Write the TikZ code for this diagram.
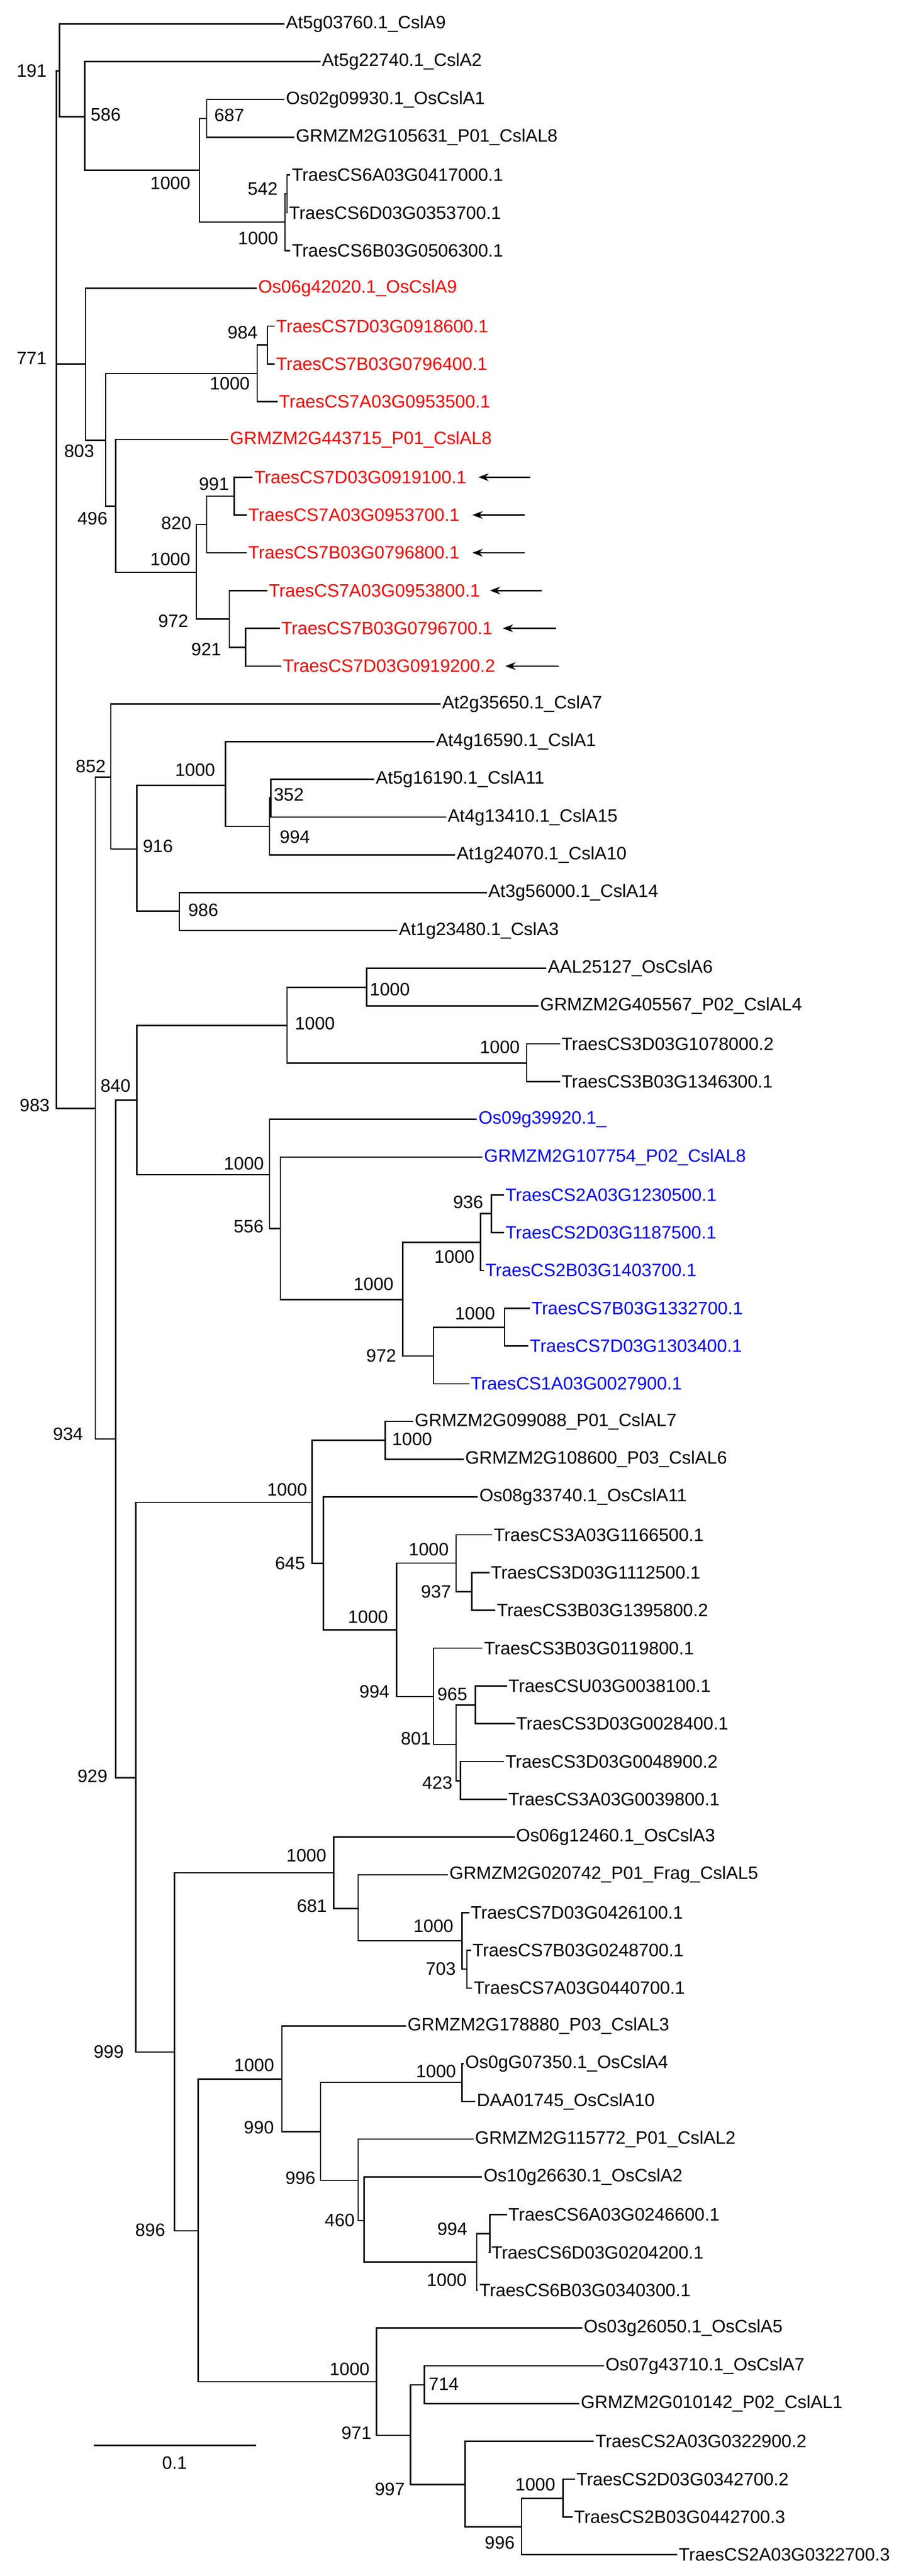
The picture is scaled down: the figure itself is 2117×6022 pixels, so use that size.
\documentclass[tikz,border=0pt]{standalone}
\usepackage{fontspec}
\setmainfont{Liberation Sans}
\usetikzlibrary{arrows.meta}
\newcommand\leaf[4][black]{\node[leaf,text=#1] (l#2) at ({#3-5},{56+88.3*(#2-1)}) {#4};}
\newcommand\bs[3]{\node[bsl] at (#1,#2) {#3};}
\definecolor{tred}{RGB}{255,0,0}
\definecolor{tblue}{RGB}{0,0,255}
\begin{document}
\begin{tikzpicture}[x=0.5pt,y=-0.5pt,
  leaf/.style={anchor=west,inner xsep=2.5pt,inner ysep=0pt,font=\fontsize{21}{25}\selectfont},
  bsl/.style={inner sep=0pt,font=\fontsize{21}{25}\selectfont},
  br/.style={line width=1.6pt,line cap=rect},
  arr/.style={line width=1.6pt,-{Stealth[length=12pt,width=9pt]}}]
\useasboundingbox[fill=white] (0,0) rectangle (2117,6022);
% leaves
\leaf{1}{668}{At5g03760.1\_CslA9}
\leaf{2}{752}{At5g22740.1\_CslA2}
\leaf{3}{668}{Os02g09930.1\_OsCslA1}
\leaf{4}{691}{GRMZM2G105631\_P01\_CslAL8}
\leaf{5}{682}{TraesCS6A03G0417000.1}
\leaf{6}{675}{TraesCS6D03G0353700.1}
\leaf{7}{682}{TraesCS6B03G0506300.1}
\leaf[tred]{8}{603}{Os06g42020.1\_OsCslA9}
\leaf[tred]{9}{645}{TraesCS7D03G0918600.1}
\leaf[tred]{10}{645}{TraesCS7B03G0796400.1}
\leaf[tred]{11}{652}{TraesCS7A03G0953500.1}
\leaf[tred]{12}{537}{GRMZM2G443715\_P01\_CslAL8}
\leaf[tred]{13}{594}{TraesCS7D03G0919100.1}
\leaf[tred]{14}{580}{TraesCS7A03G0953700.1}
\leaf[tred]{15}{580}{TraesCS7B03G0796800.1}
\leaf[tred]{16}{628}{TraesCS7A03G0953800.1}
\leaf[tred]{17}{657}{TraesCS7B03G0796700.1}
\leaf[tred]{18}{661}{TraesCS7D03G0919200.2}
\leaf{19}{1033}{At2g35650.1\_CslA7}
\leaf{20}{1019}{At4g16590.1\_CslA1}
\leaf{21}{878}{At5g16190.1\_CslA11}
\leaf{22}{1046}{At4g13410.1\_CslA15}
\leaf{23}{1067}{At1g24070.1\_CslA10}
\leaf{24}{1141}{At3g56000.1\_CslA14}
\leaf{25}{932}{At1g23480.1\_CslA3}
\leaf{26}{1280}{AAL25127\_OsCslA6}
\leaf{27}{1262}{GRMZM2G405567\_P02\_CslAL4}
\leaf{28}{1312}{TraesCS3D03G1078000.2}
\leaf{29}{1312}{TraesCS3B03G1346300.1}
\leaf[tblue]{30}{1118}{Os09g39920.1\_}
\leaf[tblue]{31}{1131}{GRMZM2G107754\_P02\_CslAL8}
\leaf[tblue]{32}{1181}{TraesCS2A03G1230500.1}
\leaf[tblue]{33}{1181}{TraesCS2D03G1187500.1}
\leaf[tblue]{34}{1134}{TraesCS2B03G1403700.1}
\leaf[tblue]{35}{1242}{TraesCS7B03G1332700.1}
\leaf[tblue]{36}{1238}{TraesCS7D03G1303400.1}
\leaf[tblue]{37}{1100}{TraesCS1A03G0027900.1}
\leaf{38}{969}{GRMZM2G099088\_P01\_CslAL7}
\leaf{39}{1087}{GRMZM2G108600\_P03\_CslAL6}
\leaf{40}{1120}{Os08g33740.1\_OsCslA11}
\leaf{41}{1154}{TraesCS3A03G1166500.1}
\leaf{42}{1147}{TraesCS3D03G1112500.1}
\leaf{43}{1161}{TraesCS3B03G1395800.2}
\leaf{44}{1131}{TraesCS3B03G0119800.1}
\leaf{45}{1188}{TraesCSU03G0038100.1}
\leaf{46}{1206}{TraesCS3D03G0028400.1}
\leaf{47}{1181}{TraesCS3D03G0048900.2}
\leaf{48}{1188}{TraesCS3A03G0039800.1}
\leaf{49}{1206}{Os06g12460.1\_OsCslA3}
\leaf{50}{1050}{GRMZM2G020742\_P01\_Frag\_CslAL5}
\leaf{51}{1100}{TraesCS7D03G0426100.1}
\leaf{52}{1104}{TraesCS7B03G0248700.1}
\leaf{53}{1107}{TraesCS7A03G0440700.1}
\leaf{54}{952}{GRMZM2G178880\_P03\_CslAL3}
\leaf{55}{1087}{Os0gG07350.1\_OsCslA4}
\leaf{56}{1114}{DAA01745\_OsCslA10}
\leaf{57}{1110}{GRMZM2G115772\_P01\_CslAL2}
\leaf{58}{1130}{Os10g26630.1\_OsCslA2}
\leaf{59}{1188}{TraesCS6A03G0246600.1}
\leaf{60}{1148}{TraesCS6D03G0204200.1}
\leaf{61}{1120}{TraesCS6B03G0340300.1}
\leaf{62}{1364}{Os03g26050.1\_OsCslA5}
\leaf{63}{1415}{Os07g43710.1\_OsCslA7}
\leaf{64}{1357}{GRMZM2G010142\_P02\_CslAL1}
\leaf{65}{1391}{TraesCS2A03G0322900.2}
\leaf{66}{1347}{TraesCS2D03G0342700.2}
\leaf{67}{1341}{TraesCS2B03G0442700.3}
\leaf{68}{1586}{TraesCS2A03G0322700.3}
% internal nodes
\coordinate (root) at (132,1378);
\coordinate (n191) at (139,166);
\coordinate (n586) at (198,273);
\coordinate (n1000a) at (466,398);
\coordinate (n687) at (483,277);
\coordinate (n1000b) at (666,519);
\coordinate (n542) at (671,453);
\coordinate (n771) at (200,851);
\coordinate (n803) at (247,1029);
\coordinate (n1000c) at (601,873);
\coordinate (n984) at (625,806);
\coordinate (n496) at (270,1183);
\coordinate (n1000d) at (459,1338);
\coordinate (n820) at (483,1226);
\coordinate (n991) at (547,1160);
\coordinate (n972) at (536,1447);
\coordinate (n921) at (574,1513);
\coordinate (n983) at (223,2591);
\coordinate (n852) at (259,1817);
\coordinate (n916) at (320,1985);
\coordinate (n1000e) at (527,1836);
\coordinate (n994) at (630,1932);
\coordinate (n352) at (633,1865);
\coordinate (n986) at (419,2130);
\coordinate (n934) at (270,3364);
\coordinate (n840) at (320,2572);
\coordinate (n1000f) at (671,2397);
\coordinate (n1000h) at (857,2308);
\coordinate (n1000i) at (1231,2485);
\coordinate (n1000g) at (630,2746);
\coordinate (n556) at (655,2872);
\coordinate (n1000j) at (941,3038);
\coordinate (n1000k) at (1123,2904);
\coordinate (n936) at (1148,2837);
\coordinate (n972b) at (1013,3170);
\coordinate (n1000l) at (1179,3103);
\coordinate (n929) at (317,4156);
\coordinate (n1000m) at (729,3512);
\coordinate (n1000n) at (900,3367);
\coordinate (n645) at (756,3655);
\coordinate (n1000o) at (927,3810);
\coordinate (n1000p) at (1066,3654);
\coordinate (n937) at (1103,3721);
\coordinate (n994b) at (1013,3966);
\coordinate (n801) at (1066,4078);
\coordinate (n965) at (1111,3986);
\coordinate (n423) at (1076,4163);
\coordinate (n999) at (408,4797);
\coordinate (n1000q) at (780,4378);
\coordinate (n681) at (837,4462);
\coordinate (n1000r) at (1080,4537);
\coordinate (n703) at (1091,4603);
\coordinate (n896) at (463,5215);
\coordinate (n1000s) at (659,4860);
\coordinate (n990) at (749,4983);
\coordinate (n1000u) at (1080,4868);
\coordinate (n996) at (837,5097);
\coordinate (n460) at (851,5191);
\coordinate (n1000v) at (1114,5288);
\coordinate (n994c) at (1145,5222);
\coordinate (n1000t) at (880,5568);
\coordinate (n971) at (959,5693);
\coordinate (n714) at (992,5575);
\coordinate (n997) at (1087,5808);
\coordinate (n996b) at (1219,5907);
\coordinate (n1000w) at (1316,5841);
% branches
\draw[br] (root) |- (n191) (root) |- (n771) (root) |- (n983);
\draw[br] (n191) |- (l1.west) (n191) |- (n586);
\draw[br] (n586) |- (l2.west) (n586) |- (n1000a);
\draw[br] (n1000a) |- (n687) (n1000a) |- (n1000b);
\draw[br] (n687) |- (l3.west) (n687) |- (l4.west);
\draw[br] (n1000b) |- (n542) (n1000b) |- (l7.west);
\draw[br] (n542) |- (l5.west) (n542) |- (l6.west);
\draw[br] (n771) |- (l8.west) (n771) |- (n803);
\draw[br] (n803) |- (n1000c) (n803) |- (n496);
\draw[br] (n1000c) |- (n984) (n1000c) |- (l11.west);
\draw[br] (n984) |- (l9.west) (n984) |- (l10.west);
\draw[br] (n496) |- (l12.west) (n496) |- (n1000d);
\draw[br] (n1000d) |- (n820) (n1000d) |- (n972);
\draw[br] (n820) |- (n991) (n820) |- (l15.west);
\draw[br] (n991) |- (l13.west) (n991) |- (l14.west);
\draw[br] (n972) |- (l16.west) (n972) |- (n921);
\draw[br] (n921) |- (l17.west) (n921) |- (l18.west);
\draw[br] (n983) |- (n852) (n983) |- (n934);
\draw[br] (n852) |- (l19.west) (n852) |- (n916);
\draw[br] (n916) |- (n1000e) (n916) |- (n986);
\draw[br] (n1000e) |- (l20.west) (n1000e) |- (n994);
\draw[br] (n994) |- (n352) (n994) |- (l23.west);
\draw[br] (n352) |- (l21.west) (n352) |- (l22.west);
\draw[br] (n986) |- (l24.west) (n986) |- (l25.west);
\draw[br] (n934) |- (n840) (n934) |- (n929);
\draw[br] (n840) |- (n1000f) (n840) |- (n1000g);
\draw[br] (n1000f) |- (n1000h) (n1000f) |- (n1000i);
\draw[br] (n1000h) |- (l26.west) (n1000h) |- (l27.west);
\draw[br] (n1000i) |- (l28.west) (n1000i) |- (l29.west);
\draw[br] (n1000g) |- (l30.west) (n1000g) |- (n556);
\draw[br] (n556) |- (l31.west) (n556) |- (n1000j);
\draw[br] (n1000j) |- (n1000k) (n1000j) |- (n972b);
\draw[br] (n1000k) |- (n936) (n1000k) |- (l34.west);
\draw[br] (n936) |- (l32.west) (n936) |- (l33.west);
\draw[br] (n972b) |- (n1000l) (n972b) |- (l37.west);
\draw[br] (n1000l) |- (l35.west) (n1000l) |- (l36.west);
\draw[br] (n929) |- (n1000m) (n929) |- (n999);
\draw[br] (n1000m) |- (n1000n) (n1000m) |- (n645);
\draw[br] (n1000n) |- (l38.west) (n1000n) |- (l39.west);
\draw[br] (n645) |- (l40.west) (n645) |- (n1000o);
\draw[br] (n1000o) |- (n1000p) (n1000o) |- (n994b);
\draw[br] (n1000p) |- (l41.west) (n1000p) |- (n937);
\draw[br] (n937) |- (l42.west) (n937) |- (l43.west);
\draw[br] (n994b) |- (l44.west) (n994b) |- (n801);
\draw[br] (n801) |- (n965) (n801) |- (n423);
\draw[br] (n965) |- (l45.west) (n965) |- (l46.west);
\draw[br] (n423) |- (l47.west) (n423) |- (l48.west);
\draw[br] (n999) |- (n1000q) (n999) |- (n896);
\draw[br] (n1000q) |- (l49.west) (n1000q) |- (n681);
\draw[br] (n681) |- (l50.west) (n681) |- (n1000r);
\draw[br] (n1000r) |- (l51.west) (n1000r) |- (n703);
\draw[br] (n703) |- (l52.west) (n703) |- (l53.west);
\draw[br] (n896) |- (n1000s) (n896) |- (n1000t);
\draw[br] (n1000s) |- (l54.west) (n1000s) |- (n990);
\draw[br] (n990) |- (n1000u) (n990) |- (n996);
\draw[br] (n1000u) |- (l55.west) (n1000u) |- (l56.west);
\draw[br] (n996) |- (l57.west) (n996) |- (n460);
\draw[br] (n460) |- (l58.west) (n460) |- (n1000v);
\draw[br] (n1000v) |- (n994c) (n1000v) |- (l61.west);
\draw[br] (n994c) |- (l59.west) (n994c) |- (l60.west);
\draw[br] (n1000t) |- (l62.west) (n1000t) |- (n971);
\draw[br] (n971) |- (n714) (n971) |- (n997);
\draw[br] (n714) |- (l63.west) (n714) |- (l64.west);
\draw[br] (n997) |- (l65.west) (n997) |- (n996b);
\draw[br] (n996b) |- (n1000w) (n996b) |- (l68.west);
\draw[br] (n1000w) |- (l66.west) (n1000w) |- (l67.west);
% bootstrap values
\bs{74}{166}{191} \bs{247}{268}{586} \bs{536}{269}{687} \bs{398}{428}{1000}
\bs{614}{441}{542} \bs{603}{557}{1000} \bs{567}{778}{984}
\bs{74}{838}{771} \bs{537}{897}{1000} \bs{185}{1055}{803} \bs{500}{1132}{991}
\bs{216}{1212}{496} \bs{412}{1223}{820} \bs{398}{1307}{1000} \bs{405}{1452}{972}
\bs{482}{1518}{921}
\bs{212}{1791}{852} \bs{456}{1800}{1000} \bs{675}{1858}{352} \bs{689}{1957}{994}
\bs{369}{1978}{916} \bs{475}{2128}{986} \bs{911}{2313}{1000}
\bs{736}{2392}{1000} \bs{270}{2538}{840} \bs{81}{2584}{983} \bs{1168}{2448}{1000}
\bs{570}{2720}{1000} \bs{1094}{2811}{936} \bs{581}{2867}{556} \bs{1062}{2938}{1000}
\bs{873}{3002}{1000} \bs{1110}{3071}{1000} \bs{891}{3169}{972}
\bs{159}{3353}{934} \bs{963}{3364}{1000} \bs{671}{3482}{1000} \bs{1002}{3622}{1000}
\bs{678}{3655}{645} \bs{1019}{3721}{937} \bs{860}{3780}{1000} \bs{875}{3955}{994}
\bs{1057}{3961}{965} \bs{972}{4064}{801} \bs{216}{4152}{929} \bs{1022}{4168}{423}
\bs{716}{4337}{1000} \bs{729}{4456}{681} \bs{1013}{4502}{1000} \bs{1030}{4603}{703}
\bs{254}{4796}{999}
\bs{594}{4828}{1000} \bs{1019}{4842}{1000} \bs{605}{4974}{990} \bs{702}{5092}{996}
\bs{794}{5190}{460} \bs{1057}{5211}{994} \bs{351}{5213}{896} \bs{1044}{5330}{1000}
\bs{817}{5538}{1000}
\bs{1037}{5573}{714} \bs{833}{5688}{971} \bs{911}{5819}{997} \bs{1251}{5808}{1000}
\bs{1168}{5944}{996}
% arrows
\coordinate (a13) at (1239,{56+88.3*12}); \coordinate (h13) at (1118,{56+88.3*12});
\coordinate (a14) at (1226,{56+88.3*13}); \coordinate (h14) at (1104,{56+88.3*13});
\coordinate (a15) at (1226,{56+88.3*14}); \coordinate (h15) at (1104,{56+88.3*14});
\coordinate (a16) at (1266,{56+88.3*15}); \coordinate (h16) at (1145,{56+88.3*15});
\coordinate (a17) at (1299,{56+88.3*16}); \coordinate (h17) at (1175,{56+88.3*16});
\coordinate (a18) at (1305,{56+88.3*17}); \coordinate (h18) at (1181,{56+88.3*17});
\draw[arr] (a13) -- (h13); \draw[arr] (a14) -- (h14); \draw[arr] (a15) -- (h15);
\draw[arr] (a16) -- (h16); \draw[arr] (a17) -- (h17); \draw[arr] (a18) -- (h18);
% scale bar
\coordinate (sb1) at (219,5717); \coordinate (sb2) at (598,5717);
\draw[line width=2pt] (sb1) -- (sb2);
\node[bsl] (sbl) at (408,5757) {0.1};
\end{tikzpicture}
\end{document}
